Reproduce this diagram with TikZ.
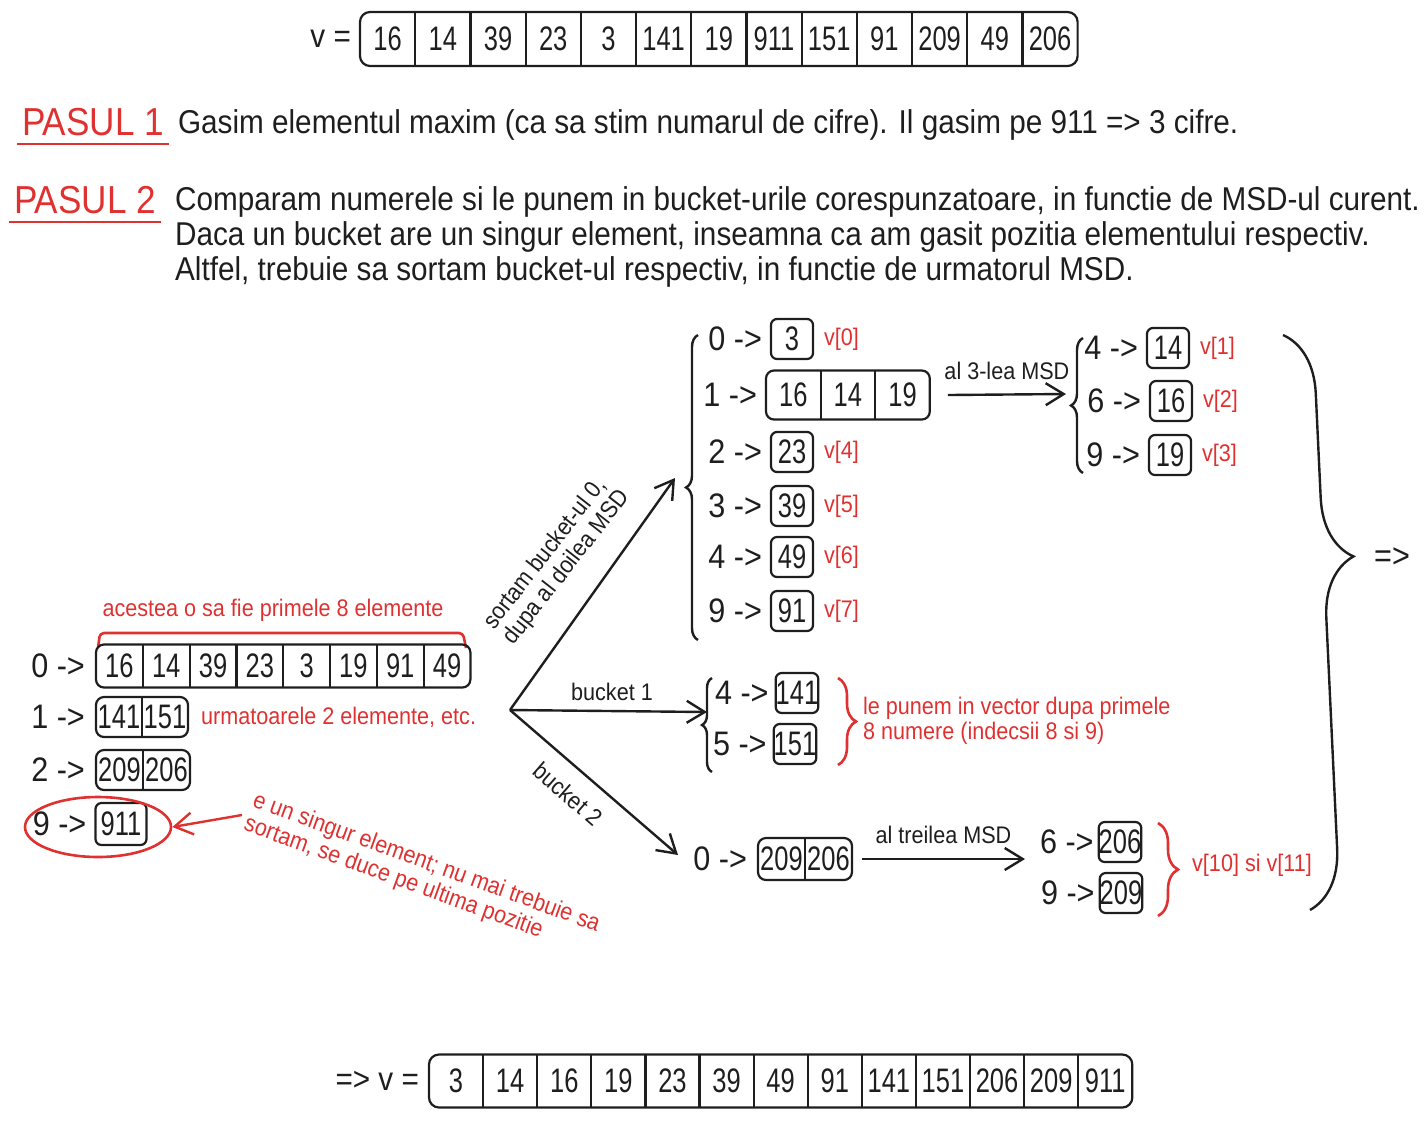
\documentclass[tikz,border=0pt]{standalone}
\usepackage{fontspec}
\setmainfont{Liberation Sans}[FakeStretch=0.9]
\newfontfamily\numfont{Liberation Sans}[FakeStretch=0.75]
\usetikzlibrary{positioning,arrows.meta,decorations.pathreplacing,shapes.geometric}
\definecolor{pen}{HTML}{1E1E1E}
\definecolor{ink}{HTML}{E03131}
\tikzset{
  cell/.style={inner sep=0pt,outer sep=0pt,font=\numfont\fontsize{17bp}{20bp}\selectfont},
  box/.style={cell,draw,rounded corners=3bp,minimum width=21bp,minimum height=20bp},
  lbl/.style={inner sep=0pt,font=\fontsize{17bp}{20bp}\selectfont},
  txt/.style={inner sep=0pt,font=\fontsize{16.5bp}{17.5bp}\selectfont},
  pasul/.style={inner sep=0pt,text=ink,font=\fontsize{19.5bp}{22bp}\selectfont},
  note/.style={inner sep=0pt,text=ink,font=\fontsize{12bp}{12.5bp}\selectfont},
  tag/.style={inner sep=0pt,font=\fontsize{12bp}{12.5bp}\selectfont},
  arr/.style={-{Straight Barb[length=9bp,width=11bp]},line width=1.2bp},
  curly/.style={decorate,decoration={brace,amplitude=#1},line width=1.2bp},
}
\begin{document}
\begin{tikzpicture}[x=0.5bp,y=-0.5bp,color=pen,line width=1.1bp]
\useasboundingbox (0,0) rectangle (1426,1121);

% vectorul initial
\coordinate (v0) at (360,39);
\foreach \t[count=\i from 0,evaluate=\i as\j using int(\i+1)] in {16,14,39,23,3,141,19,911,151,91,209,49,206}
\node at(v\i.east)[anchor=west,cell,minimum width=27.6bp,minimum height=27bp](v\j){\t};
\draw[rounded corners=5bp] (v1.north west) rectangle (v13.south east);
\foreach \i in {1,...,12} \draw (v\i.north east) -- (v\i.south east);
\node[txt,left=4bp of v1](veq){v =};

% pasii
\node[pasul](p1) at (93,122){PASUL 1};
\draw[ink,line width=1.3bp] ([shift={(-2bp,-3.5bp)}]p1.south west) -- ([shift={(2bp,-3.5bp)}]p1.south east);
\node[txt,anchor=west](t1) at (177,125){Gasim elementul maxim (ca sa stim numarul de cifre). Il gasim pe 911 => 3 cifre.};
\node[pasul](p2) at (85,200){PASUL 2};
\draw[ink,line width=1.3bp] ([shift={(-2bp,-3.5bp)}]p2.south west) -- ([shift={(2bp,-3.5bp)}]p2.south east);
\node[txt,anchor=west,align=left](t2) at (174,237){Comparam numerele si le punem in bucket-urile corespunzatoare, in functie de MSD-ul curent.\\Daca un bucket are un singur element, inseamna ca am gasit pozitia elementului respectiv.\\Altfel, trebuie sa sortam bucket-ul respectiv, in functie de urmatorul MSD.};

% bucket-urile dupa primul MSD
\node[note](n8) at (273,610){acestea o sa fie primele 8 elemente};
\draw[ink,line width=1.3bp,rounded corners=2bp] (98,648) -- (100,633) -- (463,633) -- (466,648);
\coordinate (z0) at (96,666);
\foreach \t[count=\i from 0,evaluate=\i as\j using int(\i+1)] in {16,14,39,23,3,19,91,49}
\node at(z\i.east)[anchor=west,cell,minimum width=23.4bp,minimum height=21.5bp](z\j){\t};
\draw[rounded corners=4bp] (z1.north west) rectangle (z8.south east);
\foreach \i in {1,...,7} \draw (z\i.north east) -- (z\i.south east);
\node[lbl,left=5bp of z1]{0 ->};

\coordinate (u0) at (96,717);
\foreach \t[count=\i from 0,evaluate=\i as\j using int(\i+1)] in {141,151}
\node at(u\i.east)[anchor=west,cell,minimum width=23bp,minimum height=20bp](u\j){\t};
\draw[rounded corners=4bp] (u1.north west) rectangle (u2.south east);
\draw (u1.north east) -- (u1.south east);
\node[lbl,left=5bp of u1]{1 ->};
\node[note,right=6bp of u2]{urmatoarele 2 elemente, etc.};

\coordinate (d0) at (96,770);
\foreach \t[count=\i from 0,evaluate=\i as\j using int(\i+1)] in {209,206}
\node at(d\i.east)[anchor=west,cell,minimum width=23.5bp,minimum height=20bp](d\j){\t};
\draw[rounded corners=4bp] (d1.north west) rectangle (d2.south east);
\draw (d1.north east) -- (d1.south east);
\node[lbl,left=5bp of d1]{2 ->};

\node[box,minimum width=25.5bp,minimum height=21bp](n1) at (121,824){911};
\node[lbl,left=4bp of n1]{9 ->};
\node[ellipse,draw=ink,line width=1.3bp,minimum width=73bp,minimum height=30bp](circ) at (98,827){};
\node[note,rotate=-20,align=left](n9) at (422,875){e un singur element; nu mai trebuie sa\\sortam, se duce pe ultima pozitie};
\coordinate (c9) at (242,815);
\draw[arr,ink] (c9) -- (circ.east);

% ramificatii
\coordinate (j) at (510,710);
\coordinate (a0) at (675,478);
\coordinate (a1) at (707,712);
\coordinate (a2) at (678,855);
\draw[arr] (j) -- (a0);
\draw[arr] (j) -- (a1);
\draw[arr] (j) -- (a2);
\node[tag,rotate=52,align=left] at (557,560){sortam bucket-ul 0,\\dupa al doilea MSD};
\node[tag] at (612,692){bucket 1};
\node[tag,rotate=-41] at (568,794){bucket 2};

% bucket 0, al doilea MSD
\draw[curly=6bp] (698,640) -- (698,335);
\foreach \d/\y/\t/\k in {0/339/3/0,2/452/23/4,3/506/39/5,4/557/49/6,9/611/91/7}{
\node[box](s\d) at (792,\y){\t};
\node[lbl,left=4bp of s\d]{\d{} ->};
\node[note,right=5bp of s\d]{v[\k]};
}
\coordinate (o0) at (766,395);
\foreach \t[count=\i from 0,evaluate=\i as\j using int(\i+1)] in {16,14,19}
\node at(o\i.east)[anchor=west,cell,minimum width=27.3bp,minimum height=24.5bp](o\j){\t};
\draw[rounded corners=4bp] (o1.north west) rectangle (o3.south east);
\foreach \i in {1,2} \draw (o\i.north east) -- (o\i.south east);
\node[lbl,left=4bp of o1]{1 ->};

% al 3-lea MSD
\coordinate (m3) at (1066,394);
\draw[arr] ([xshift=9bp]o3.east) -- node[tag,above=7bp]{al 3-lea MSD} (m3);
\draw[curly=6bp] (1083,473) -- (1083,338);
\foreach \d/\x/\y/\t/\k in {4/1168/348/14/1,6/1171/401/16/2,9/1170/455/19/3}{
\node[box](t\d) at (\x,\y){\t};
\node[lbl,left=4bp of t\d]{\d{} ->};
\node[note,right=5bp of t\d]{v[\k]};
}

% bucket 1
\draw[curly=5bp] (712,772) -- (712,678);
\foreach \d/\x/\y/\t in {4/797/693/141,5/795/744/151}{
\node[box](k\d) at (\x,\y){\t};
\node[lbl,left=3bp of k\d]{\d{} ->};
}
\draw[curly=9bp,ink,line width=1.3bp] (838,678) -- (838,765);
\node[note,anchor=west,align=left](n10) at (862,721){le punem in vector dupa primele\\8 numere (indecsii 8 si 9)};

% bucket 2
\coordinate (e0) at (758,859);
\foreach \t[count=\i from 0,evaluate=\i as\j using int(\i+1)] in {209,206}
\node at(e\i.east)[anchor=west,cell,minimum width=23.5bp,minimum height=21bp](e\j){\t};
\draw[rounded corners=4bp] (e1.north west) rectangle (e2.south east);
\draw (e1.north east) -- (e1.south east);
\node[lbl,left=5bp of e1]{0 ->};
\coordinate (m23) at (1025,859);
\draw[arr] ([xshift=5bp]e2.east) -- node[tag,above=7bp]{al treilea MSD} (m23);
\foreach \d/\x/\y/\t in {6/1120/842/206,9/1121/893/209}{
\node[box](f\d) at (\x,\y){\t};
\node[lbl,left=2bp of f\d]{\d{} ->};
}
\draw[curly=10bp,ink,line width=1.3bp] (1158,823) -- (1158,916);
\node[note](n11) at (1252,865){v[10] si v[11]};

% rezultat
\draw[curly=30bp,decoration={aspect=0.39}] (1283,335) -- (1310,910);
\node[lbl](res) at (1392,558){=>};
\coordinate (r0) at (429,1081);
\foreach \t[count=\i from 0,evaluate=\i as\j using int(\i+1)] in {3,14,16,19,23,39,49,91,141,151,206,209,911}
\node at(r\i.east)[anchor=west,cell,minimum width=27.05bp,minimum height=26.5bp](r\j){\t};
\draw[rounded corners=5bp] (r1.north west) rectangle (r13.south east);
\foreach \i in {1,...,12} \draw (r\i.north east) -- (r\i.south east);
\node[txt,left=4.5bp of r1](req){=> v =};
\end{tikzpicture}
\end{document}
